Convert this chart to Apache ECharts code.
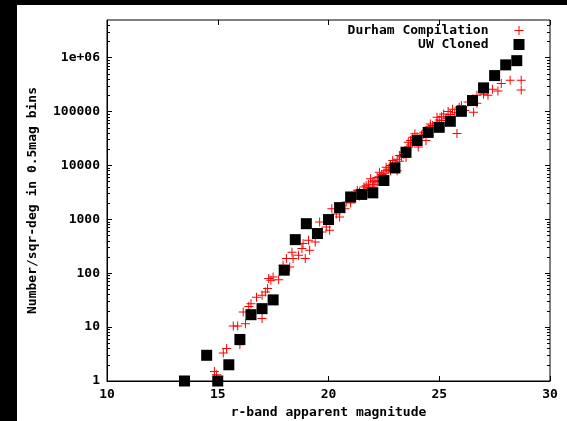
<!DOCTYPE html>
<html><head><meta charset="utf-8">
<script src="https://cdn.jsdelivr.net/npm/echarts@6/dist/echarts.min.js"></script>
<style>
html,body{margin:0;padding:0;background:#000;width:567px;height:421px;overflow:hidden}
#chart{position:absolute;left:17px;top:5px;width:550px;height:416px;background:#fff}
</style></head><body><div id="chart"></div>
<script>
// UW Cloned (0.5 mag bins)
const uwMags = [13.5,14.5,15.0,15.5,16.0,16.5,17.0,17.5,18.0,18.5,19.0,19.5,20.0,20.5,21.0,21.5,22.0,22.5,23.0,23.5,24.0,24.5,25.0,25.5,26.0,26.5,27.0,27.5,28.0,28.5];
const uwCounts = [1,3.0,1,2.0,5.9,17,22,32,114,420,830,545,990,1650,2600,2900,3100,5250,9000,17600,29000,41000,51000,66000,101000,160000,275000,465000,735000,880000];

// Durham Compilation
const durhamMags = [14.85,14.95,15.25,15.4,15.7,15.9,16.0,16.25,16.15,16.4,16.5,16.75,17.0,17.0,17.15,17.25,17.3,17.4,17.5,17.75,17.95,18.1,18.25,18.35,18.4,18.65,18.8,18.85,18.95,19.1,19.15,19.4,19.6,19.7,19.9,20.05,20.15,20.35,20.5,20.75,20.8,
  21.0,21.0,21.05,21.1,21.2,21.2,21.3,21.4,21.4,21.6,21.6,21.7,21.8,21.8,21.9,22.0,22.0,22.05,22.1,22.2,22.2,22.3,22.3,22.4,22.5,22.5,22.6,22.6,22.7,22.8,22.8,22.9,22.9,23.0,23.0,23.1,23.1,23.2,23.2,23.3,23.4,23.4,23.5,23.5,23.6,23.6,23.7,23.7,23.8,23.8,23.9,23.9,24.0,24.0,24.05,24.2,24.3,24.3,24.4,24.4,24.5,24.6,24.6,24.7,24.9,24.9,25.0,25.1,25.1,25.2,25.3,25.4,25.5,25.6,25.7,25.8,25.9,26.0,26.0,26.15,26.3,26.5,26.55,26.7,26.7,27.0,27.0,27.2,27.4,27.65,27.8,28.2,28.7,28.7];
const durhamCounts = [1.5,1.3,3.3,4.0,10.5,10.5,4.7,11.5,19,24,27,36,39,14.5,45,52,80,74,85,76,140,187,131,246,187,215,287,355,187,408,267,380,890,580,720,625,1580,1260,1100,1580,2090,
  2300,2000,2700,2500,3000,2400,3460,3200,2700,3980,3500,4200,4500,3800,5640,3980,5000,4400,5200,6000,5000,7500,6200,6800,6050,7200,9300,8000,8500,8000,10000,12400,10500,11000,9500,8000,13000,15300,12000,14500,17600,16000,19000,14000,27000,22000,29000,24000,33400,26000,38700,30000,28000,34000,21900,36000,41400,38000,29000,45000,48000,59000,52000,55000,78000,62000,70000,80000,68000,90000,75000,100000,88000,110000,95000,39000,120000,130000,115000,105000,150000,170000,97000,142000,200000,210000,240000,200000,260000,240000,330000,380000,380000,250000];

const xTickValues = [10,15,20,25,30];
const yTickValues = [1,10,100,1000,10000,100000,1000000];
const yTickLabels = ['1','10','100','1000','10000','100000','1e+06'];
const yMinorValues = [];
[1,10,100,1000,10000,100000,1000000].forEach(d=>{for(let k=2;k<=9;k++){if(d*k<5000000)yMinorValues.push(d*k);}});

const FONT = 'DejaVu Sans Mono';
const plusPath = 'path://M4,0H5V4H9V5H5V9H4V5H0V4H4Z';
const chart = echarts.init(document.getElementById('chart'), null, {renderer:'canvas'});
const gridPos = {left:90, right:17, top:15, bottom:40, containLabel:false, outerBoundsMode:'none'};
const txt = {fontFamily:FONT, fontSize:13, fontWeight:'bold', color:'#000'};

chart.setOption({
  animation:false,
  backgroundColor:'#fff',
  textStyle:{fontFamily:FONT},
  grid:[Object.assign({show:true, borderColor:'#000', borderWidth:1, backgroundColor:'transparent'}, gridPos),
        Object.assign({show:false}, gridPos)],
  legend:[
    {data:['Durham Compilation'], right:38.5, top:14, itemWidth:9, itemHeight:9, align:'right', orient:'vertical',
     textStyle:Object.assign({padding:[0,21,0,0]}, txt), selectedMode:false},
    {data:['UW Cloned'], right:37.5, top:28, itemWidth:11, itemHeight:11, align:'right', orient:'vertical',
     textStyle:Object.assign({padding:[0,20,0,0]}, txt), selectedMode:false}
  ],
  xAxis:[
    {type:'value', gridIndex:0, min:10, max:30, interval:5, position:'bottom',
     name:'r-band apparent magnitude', nameLocation:'middle', nameGap:24, nameTextStyle:txt,
     axisLine:{lineStyle:{color:'#000'}}, splitLine:{show:false},
     axisTick:{inside:true, length:5, lineStyle:{color:'#000'}},
     axisLabel:Object.assign({margin:7, customValues:xTickValues}, txt)},
    {type:'value', gridIndex:0, min:10, max:30, interval:5, position:'top',
     axisLine:{show:false}, splitLine:{show:false}, axisLabel:{show:false},
     axisTick:{inside:true, length:5, lineStyle:{color:'#000'}}},
    {type:'value', gridIndex:1, min:10, max:30, show:false}
  ],
  yAxis:[
    {type:'log', logBase:10, gridIndex:0, min:1, max:5000000, position:'left',
     name:'Number/sqr-deg in 0.5mag bins', nameLocation:'middle', nameRotate:90, nameGap:68, nameTextStyle:txt,
     axisLine:{show:true, lineStyle:{color:'#000'}}, splitLine:{show:false},
     axisTick:{inside:true, length:5, customValues:yTickValues, lineStyle:{color:'#000'}},
     axisLabel:Object.assign({margin:7, customValues:yTickValues,
       formatter:(v)=>{const i=yTickValues.findIndex(t=>Math.abs(t-v)/t<1e-6);return i>=0?yTickLabels[i]:'';}}, txt)},
    {type:'log', logBase:10, gridIndex:0, min:1, max:5000000, position:'right',
     axisLine:{show:false}, splitLine:{show:false}, axisLabel:{show:false},
     axisTick:{inside:true, length:5, customValues:yTickValues, lineStyle:{color:'#000'}}},
    {type:'log', logBase:10, gridIndex:1, min:1, max:5000000, position:'left',
     axisLine:{show:false}, splitLine:{show:false}, axisLabel:{show:false},
     axisTick:{inside:true, length:3, customValues:yMinorValues, lineStyle:{color:'#000'}}},
    {type:'log', logBase:10, gridIndex:1, min:1, max:5000000, position:'right',
     axisLine:{show:false}, splitLine:{show:false}, axisLabel:{show:false},
     axisTick:{inside:true, length:3, customValues:yMinorValues, lineStyle:{color:'#000'}}}
  ],
  series:[
    {name:'Durham Compilation', type:'scatter', xAxisIndex:0, yAxisIndex:0,
     symbol:plusPath, symbolSize:9, itemStyle:{color:'#ff0000', opacity:1},
     data:durhamMags.map((m,i)=>[m,durhamCounts[i]]), z:2},
    {name:'UW Cloned', type:'scatter', xAxisIndex:0, yAxisIndex:0,
     symbol:'rect', symbolSize:11, itemStyle:{color:'#000', opacity:1},
     data:uwMags.map((m,i)=>[m,uwCounts[i]]), z:3}
  ]
});
</script></body></html>
